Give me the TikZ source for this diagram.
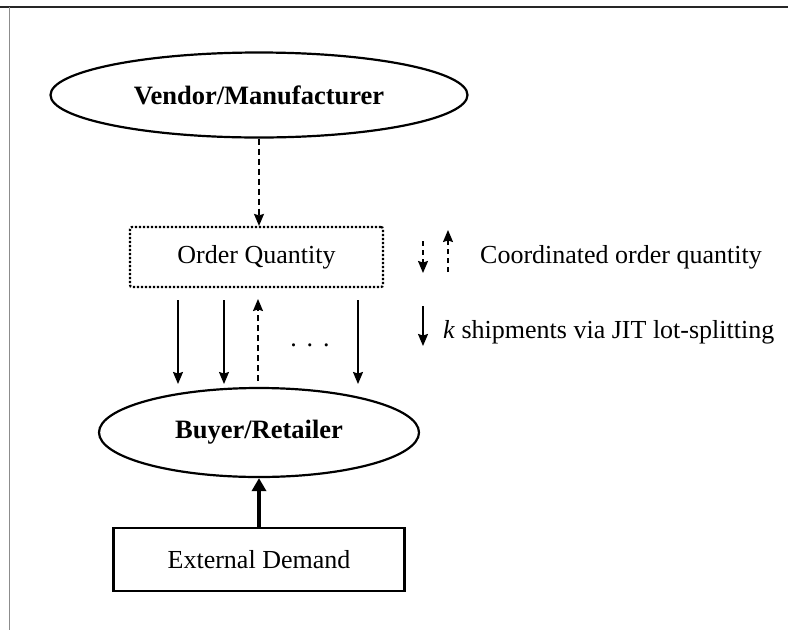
\documentclass[tikz,border=0pt]{standalone}
\usepackage{fontspec}
\setmainfont{Liberation Serif}
\usetikzlibrary{shapes.geometric,arrows.meta}
\begin{document}
\begin{tikzpicture}[x=1pt,y=-1pt,
  txt/.style={font=\fontsize{26}{30}\selectfont, inner sep=0pt},
  bold/.style={font=\fontsize{26.5}{30}\selectfont\bfseries, inner sep=0pt},
  oval/.style={ellipse, draw, line width=2.2pt, inner sep=0pt},
  tip/.style={-{Stealth[length=12pt,width=10pt,inset=1.5pt]}},
  ship/.style={tip, line width=1.6pt},
  coord/.style={tip, line width=1.6pt, dash pattern=on 6pt off 4pt}
]
\useasboundingbox (0,0) rectangle (788,630);
% frame
\draw[line width=2.2pt, black!85] (0,7) -- (788,7);
\draw[line width=1pt, black!45] (9,7) -- (9,630);

% nodes
\node[oval, bold, minimum width=417pt, minimum height=85pt] (vm) at (259,95) {Vendor/Manufacturer};
\node[draw, line width=2.2pt, dash pattern=on 2.2pt off 1.8pt, rounded corners=2pt, txt, minimum width=253pt, minimum height=60pt] (oq) at (256.5,257) {Order Quantity};
\node[oval, bold, minimum width=320pt, minimum height=89pt] (br) at (259,432.5) {Buyer/Retailer};
\node[draw, line width=2.6pt, txt, minimum width=291pt, minimum height=63pt] (ed) at (259,559.5) {External Demand};

% vendor -> order quantity
\draw[coord] (vm.south) -- (vm.south |- oq.north);

% shipments
\coordinate (s1a) at (178,300); \coordinate (s1b) at (178,384);
\coordinate (s2a) at (224,300); \coordinate (s2b) at (224,384);
\coordinate (u1a) at (258,381); \coordinate (u1b) at (258,299);
\coordinate (s3a) at (358,300); \coordinate (s3b) at (358,384);
\draw[ship] (s1a) -- (s1b);
\draw[ship] (s2a) -- (s2b);
\draw[coord] (u1a) -- (u1b);
\draw[ship] (s3a) -- (s3b);
\node[txt, anchor=base] (dots) at (310,346) {.\hspace{10pt}.\hspace{10pt}.};

% demand
\draw[line width=3.6pt, -{Triangle[length=13pt,width=14pt]}] (ed.north) -- (br.south);

% legend
\coordinate (l1a) at (423,241); \coordinate (l1b) at (423,273);
\coordinate (l2a) at (448,272); \coordinate (l2b) at (448,230);
\coordinate (l3a) at (423,306); \coordinate (l3b) at (423,346);
\draw[coord, dash pattern=on 5pt off 4pt] (l1a) -- (l1b);
\draw[coord, dash pattern=on 5pt off 4pt] (l2a) -- (l2b);
\draw[ship] (l3a) -- (l3b);
\node[txt, anchor=west] (lt1) at (480,257) {Coordinated order quantity};
\node[txt, anchor=west] (lt2) at (443,332) {\textit{k} shipments via JIT lot-splitting};
\end{tikzpicture}
\end{document}
